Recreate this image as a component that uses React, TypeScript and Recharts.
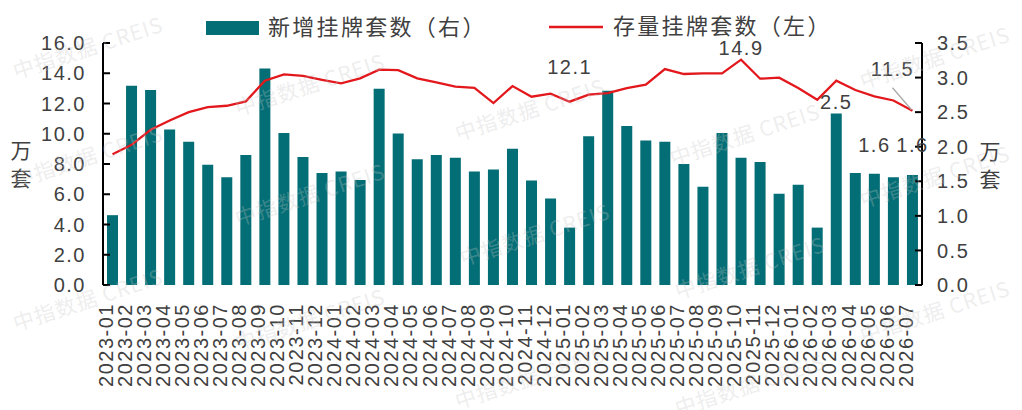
import React from "react";
import {
  ComposedChart,
  Bar,
  Line,
  XAxis,
  YAxis,
  LabelList,
} from "recharts";

const MONTHS = [
  "2023-01", "2023-02", "2023-03", "2023-04", "2023-05", "2023-06", "2023-07", "2023-08", "2023-09", "2023-10", "2023-11", "2023-12",
  "2024-01", "2024-02", "2024-03", "2024-04", "2024-05", "2024-06", "2024-07", "2024-08", "2024-09", "2024-10", "2024-11", "2024-12",
  "2025-01", "2025-02", "2025-03", "2025-04", "2025-05", "2025-06", "2025-07", "2025-08", "2025-09", "2025-10", "2025-11", "2025-12",
  "2026-01", "2026-02", "2026-03", "2026-04", "2026-05", "2026-06", "2026-07",
];

// 新增挂牌套数（右轴，万套）
const NEW_LISTINGS = [
  1.01, 2.88, 2.82, 2.25, 2.07, 1.74, 1.56, 1.88, 3.13, 2.2, 1.85, 1.62,
  1.64, 1.52, 2.84, 2.19, 1.82, 1.88, 1.84, 1.64, 1.67, 1.97, 1.51, 1.25,
  0.83, 2.15, 2.81, 2.3, 2.09, 2.07, 1.75, 1.42, 2.2, 1.84, 1.78, 1.32,
  1.45, 0.83, 2.48, 1.62, 1.61, 1.56, 1.59,
];

// 存量挂牌套数（左轴，万套）
const STOCK_LISTINGS = [
  8.65, 9.27, 10.26, 10.88, 11.43, 11.76, 11.85, 12.14, 13.51, 13.93, 13.82, 13.57,
  13.33, 13.66, 14.24, 14.21, 13.66, 13.4, 13.11, 13.04, 12.03, 13.15, 12.45, 12.65,
  12.12, 12.58, 12.69, 13.02, 13.24, 14.28, 13.95, 13.99, 13.99, 14.9, 13.64, 13.71,
  13.02, 12.25, 13.51, 12.89, 12.47, 12.2, 11.52,
];

const LEFT_TICKS = [0, 2, 4, 6, 8, 10, 12, 14, 16];
const RIGHT_TICKS = [0, 0.5, 1, 1.5, 2, 2.5, 3, 3.5];

const BAR_NAME = "新增挂牌套数（右）";
const LINE_NAME = "存量挂牌套数（左）";
const UNIT = ["万", "套"];
const WATERMARK = "中指数据 CREIS";

// 标注的点（index -> 标签偏移）
const LINE_LABELS: Record<number, { dx: number; dy: number; leader?: boolean }> = {
  24: { dx: 0, dy: -35 },
  33: { dx: 0, dy: -12 },
  42: { dx: -20, dy: -42, leader: true },
};
const BAR_LABELS: Record<number, number> = { 38: -12, 40: -29, 42: -30 };

const BAR_COLOR = "#036e75";
const LINE_COLOR = "#e2181d";
const TEXT = "#404040";
const NUM_FONT = "'Liberation Sans', Arial, sans-serif";
const CJK_FONT = "'Noto Sans CJK SC', sans-serif";

const data = MONTHS.map((m, i) => ({
  month: m,
  newListings: NEW_LISTINGS[i],
  stock: STOCK_LISTINGS[i],
}));

const watermarks = [
  [88, 48], [310, 85], [530, 110], [745, 135], [935, 58],
  [88, 157], [310, 195], [535, 235], [750, 268], [935, 177],
  [88, 300], [310, 320], [530, 378], [750, 385], [935, 312],
];

function LeftTick(props: any) {
  const { x, y, payload } = props;
  return (
    <g>
      <line x1={x + 17} x2={x + 24} y1={y} y2={y} stroke="#000" strokeWidth={2} />
      <text x={x} y={y} dy="0.36em" textAnchor="end" fill={TEXT} fontSize={20} letterSpacing={1.5} fontFamily={NUM_FONT}>
        {Number(payload.value).toFixed(1)}
      </text>
    </g>
  );
}

function RightTick(props: any) {
  const { x, y, payload } = props;
  return (
    <g>
      <line x1={x - 15} x2={x - 22} y1={y} y2={y} stroke="#000" strokeWidth={2} />
      <text x={x} y={y} dy="0.36em" textAnchor="start" fill={TEXT} fontSize={20} letterSpacing={1.5} fontFamily={NUM_FONT}>
        {Number(payload.value).toFixed(1)}
      </text>
    </g>
  );
}

function MonthTick(props: any) {
  const { x, y, payload } = props;
  const tx = x - 7;
  return (
    <text
      x={tx}
      y={y}
      dy="0.36em"
      transform={`rotate(-90, ${tx}, ${y})`}
      textAnchor="end"
      fill={TEXT}
      fontSize={20}
      letterSpacing={1.5}
      fontFamily={NUM_FONT}
    >
      {payload.value}
    </text>
  );
}

function LineLabel(props: any) {
  const { x, y, value, index } = props;
  const cfg = LINE_LABELS[index];
  if (!cfg) return null;
  const lx = x + cfg.dx;
  const ly = y + cfg.dy;
  return (
    <g>
      {cfg.leader && (
        <line x1={lx} y1={ly + 19} x2={x - 1} y2={y - 1} stroke="#a6a6a6" strokeWidth={1.2} />
      )}
      <text x={lx} y={ly} dy="0.36em" textAnchor="middle" fill={TEXT} fontSize={20} letterSpacing={1.5} fontFamily={NUM_FONT}>
        {Number(value).toFixed(1)}
      </text>
    </g>
  );
}

function BarLabel(props: any) {
  const { x, y, width, value, index } = props;
  const dy = BAR_LABELS[index];
  if (dy === undefined) return null;
  return (
    <text x={x + width / 2} y={y + dy} dy="0.36em" textAnchor="middle" fill={TEXT} fontSize={20} letterSpacing={1.5} fontFamily={NUM_FONT}>
      {Number(value).toFixed(1)}
    </text>
  );
}

export default function App() {
  return (
    <div style={{ position: "absolute", left: 0, top: 0, width: 1022, height: 410, background: "#fff" }}>
      <ComposedChart
        width={1022}
        height={410}
        data={data}
        margin={{ top: 43, right: 0, bottom: 20, left: 0 }}
      >
        <XAxis
          dataKey="month"
          interval={0}
          axisLine={false}
          tickLine={false}
          tickSize={0}
          tickMargin={18}
          height={105}
          tick={<MonthTick />}
        />
        <YAxis
          yAxisId="left"
          orientation="left"
          width={103}
          domain={[0, 16]}
          ticks={LEFT_TICKS}
          interval={0}
          tickSize={0}
          tickMargin={17}
          tickLine={false}
          axisLine={{ stroke: "#000", strokeWidth: 2 }}
          tick={<LeftTick />}
        />
        <YAxis
          yAxisId="right"
          orientation="right"
          width={100}
          domain={[0, 3.5]}
          ticks={RIGHT_TICKS}
          interval={0}
          tickSize={0}
          tickMargin={15}
          tickLine={false}
          axisLine={{ stroke: "#000", strokeWidth: 2 }}
          tick={<RightTick />}
        />
        <Bar
          yAxisId="right"
          dataKey="newListings"
          fill={BAR_COLOR}
          barSize={11}
          isAnimationActive={false}
        >
          <LabelList dataKey="newListings" content={<BarLabel />} />
        </Bar>
        <Line
          yAxisId="left"
          dataKey="stock"
          type="linear"
          stroke={LINE_COLOR}
          strokeWidth={2.3}
          dot={false}
          activeDot={false}
          isAnimationActive={false}
        >
          <LabelList dataKey="stock" content={<LineLabel />} />
        </Line>
      </ComposedChart>

      <svg
        width={1022}
        height={410}
        style={{ position: "absolute", left: 0, top: 0, pointerEvents: "none" }}
      >
        {/* 图例 */}
        <rect x={206} y={21} width={53} height={14} fill={BAR_COLOR} />
        <text x={268} y={27} dy="0.36em" fill={TEXT} fontSize={22} letterSpacing={2.3} fontFamily={CJK_FONT}>
          {BAR_NAME}
        </text>
        <line x1={549} x2={603} y1={27} y2={27} stroke={LINE_COLOR} strokeWidth={2.5} />
        <text x={613} y={26} dy="0.36em" fill={TEXT} fontSize={22} letterSpacing={2.3} fontFamily={CJK_FONT}>
          {LINE_NAME}
        </text>

        {/* 单位 */}
        {UNIT.map((c, i) => (
          <text key={`l-${c}`} x={21} y={150 + i * 28} dy="0.36em" textAnchor="middle" fill={TEXT} fontSize={21} fontFamily={CJK_FONT}>
            {c}
          </text>
        ))}
        {UNIT.map((c, i) => (
          <text key={`r-${c}`} x={990} y={151 + i * 28} dy="0.36em" textAnchor="middle" fill={TEXT} fontSize={21} fontFamily={CJK_FONT}>
            {c}
          </text>
        ))}

        {/* 水印 */}
        {watermarks.map(([cx, cy], i) => (
          <text
            key={`wm-${i}`}
            x={cx}
            y={cy}
            dy="0.36em"
            textAnchor="middle"
            transform={`rotate(-18, ${cx}, ${cy})`}
            fill="#c4c4c4"
            fillOpacity={0.3}
            fontSize={21}
            letterSpacing={1}
            fontFamily={CJK_FONT}
          >
            {WATERMARK}
          </text>
        ))}
      </svg>
    </div>
  );
}
